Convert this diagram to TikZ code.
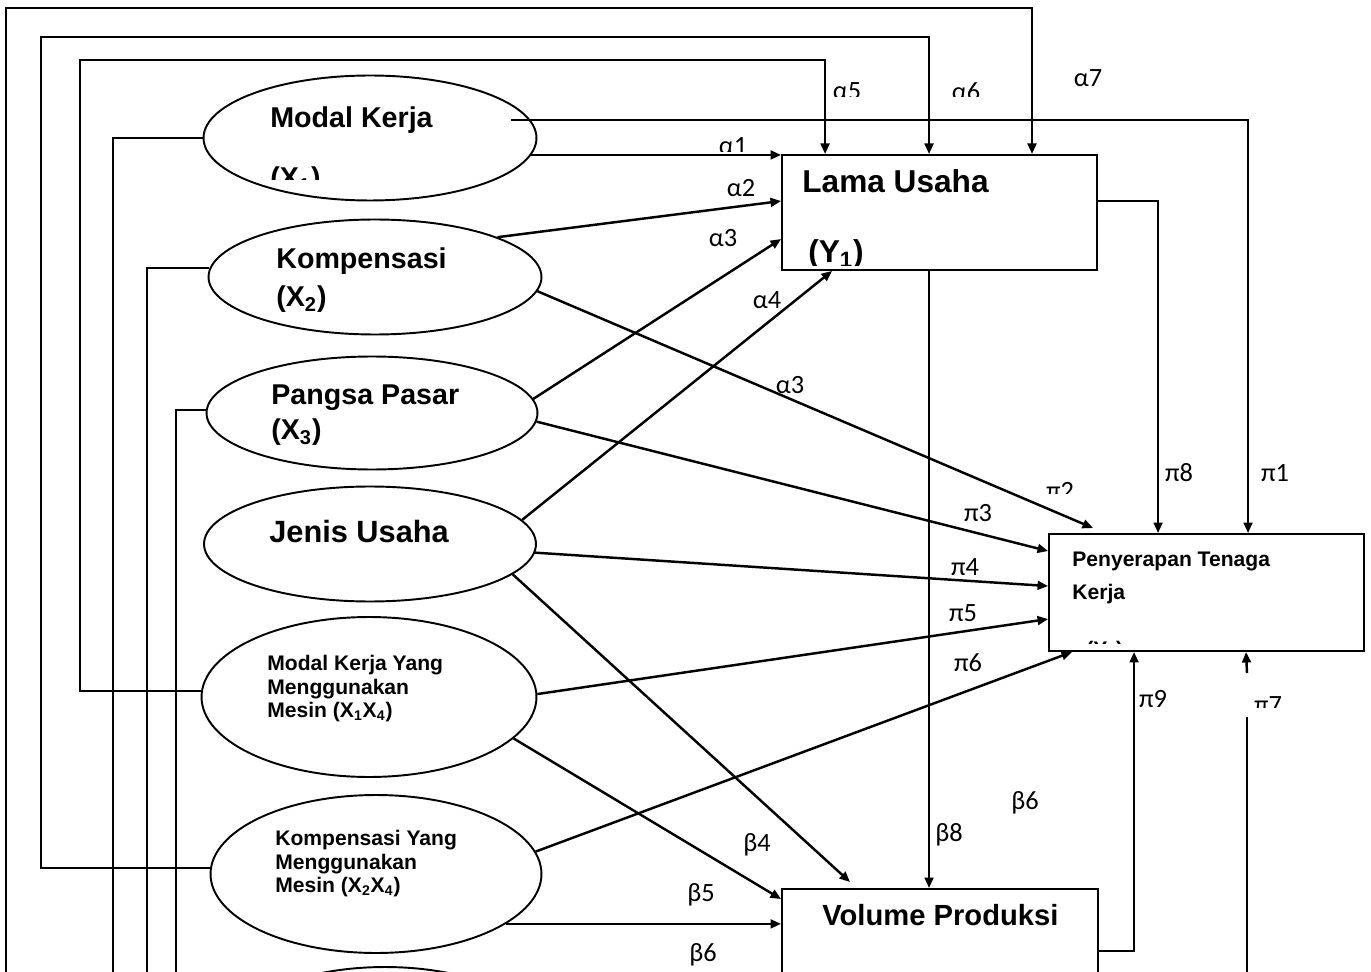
\documentclass[tikz,border=0pt]{standalone}
\usepackage{fontspec}
\setmainfont{Liberation Sans}
\newfontfamily\lblfont{Carlito}
\usetikzlibrary{arrows.meta,shapes.geometric}

\tikzset{
  var/.style={draw,ellipse,line width=1.1pt,inner sep=0pt},
  box/.style={draw,rectangle,line width=1.1pt,inner sep=0pt},
  wire/.style={line width=1.1pt},
  arr/.style={line width=1.4pt,-{Triangle[length=6pt,width=5pt]}},
  coef/.style={font=\lblfont\fontsize{15}{18}\selectfont,inner sep=0pt},
  vtext/.style={font=\bfseries\fontsize{16.3}{19}\selectfont,inner sep=0pt,anchor=base west},
  small/.style={font=\bfseries\fontsize{12}{13.4}\selectfont,inner sep=0pt,align=left,anchor=north west},
}

\begin{document}
\begin{tikzpicture}[x=0.02cm,y=-0.02cm]
      \useasboundingbox (0,0) rectangle (1371,972);
      \clip (0,0) rectangle (1371,972);
      % variables
      \draw
        (370,138) node[var,minimum width=6.66cm,minimum height=2.5cm] (mk){}
        (375,277) node[var,minimum width=6.66cm,minimum height=2.3cm] (kp){}
        (372,413) node[var,minimum width=6.62cm,minimum height=2.26cm] (ps){}
        (370,544) node[var,minimum width=6.64cm,minimum height=2.3cm] (js){}
        (369,697) node[var,minimum width=6.7cm,minimum height=3.2cm] (mky){}
        (376,874) node[var,minimum width=6.62cm,minimum height=3.16cm] (kpy){}
        (385,1046) node[var,minimum width=6.62cm,minimum height=3.16cm] (last){}
        (939.5,212.5) node[box,minimum width=6.3cm,minimum height=2.3cm] (lu){}
        (1206.5,592.5) node[box,minimum width=6.3cm,minimum height=2.34cm] (pt){}
        (940,949) node[box,minimum width=6.32cm,minimum height=2.4cm] (vp){};
      % texts
      \draw
        (270,128) node[vtext] (mk-t){Modal Kerja}
        (276,269) node[vtext] (kp-t){Kompensasi}
        (276,307) node[vtext] (kp-x){(X\textsubscript{2})}
        (271,405) node[vtext] (ps-t){Pangsa Pasar}
        (271,440) node[vtext] (ps-x){(X\textsubscript{3})}
        (269,542) node[vtext,font=\bfseries\fontsize{17.5}{21}\selectfont] (js-t){Jenis Usaha}
        (267,655) node[small] (mky-t){Modal Kerja Yang\\Menggunakan\\Mesin (X\textsubscript{1}X\textsubscript{4})}
        (275,830) node[small] (kpy-t){Kompensasi Yang\\Menggunakan\\Mesin (X\textsubscript{2}X\textsubscript{4})}
        (802,193) node[vtext,font=\bfseries\fontsize{18}{21}\selectfont] (lu-t){Lama Usaha}
        (1072,566) node[vtext,font=\bfseries\fontsize{12}{14}\selectfont] (pt-t){Penyerapan Tenaga}
        (1072,599) node[vtext,font=\bfseries\fontsize{12}{14}\selectfont] (pt-k){Kerja}
        (822,925) node[vtext,font=\bfseries\fontsize{16.6}{20}\selectfont] (vp-t){Volume Produksi};
      \begin{scope}
        \clip (220,150) rectangle (540,180);
        \node[vtext] (mk-x) at (270,188) {(X\textsubscript{1})};
      \end{scope}
      \begin{scope}
        \clip (790,230) rectangle (1000,266);
        \node[vtext,font=\bfseries\fontsize{18}{21}\selectfont] (lu-x) at (808,263) {(Y\textsubscript{1})};
      \end{scope}
      \begin{scope}
        \clip (1060,620) rectangle (1200,643);
        \node[vtext,font=\bfseries\fontsize{12}{14}\selectfont] (pt-x) at (1086,656) {(Y\textsubscript{2})};
      \end{scope}
      % coefficients
      \draw
        (723,238) node[coef] (a3){α3}
        (741,188) node[coef] (a2){α2}
        (767,300) node[coef] (a4){α4}
        (790,385) node[coef] (a3b){α3}
        (1088,78) node[coef] (a7){α7}
        (1179,473) node[coef] (p8){π8}
        (1275,473) node[coef] (p1){π1}
        (978,513) node[coef] (p3){π3}
        (965,567) node[coef] (p4){π4}
        (963,613) node[coef] (p5){π5}
        (968,663) node[coef] (p6){π6}
        (1153,699) node[coef] (p9){π9}
        (1025,803) node[coef] (b6b){β6}
        (949,835) node[coef] (b8){β8}
        (757,845) node[coef] (b4){β4}
        (701,895) node[coef] (b5){β5}
        (703,955) node[coef] (b6){β6};
      \begin{scope}
        \clip (700,60) rectangle (1010,97);
        \node[coef] (a5) at (847,91.5) {α5};
        \node[coef] (a6) at (966,91.5) {α6};
      \end{scope}
      \begin{scope}
        \clip (700,120) rectangle (770,152);
        \node[coef] (a1) at (733,146.5) {α1};
      \end{scope}
      \begin{scope}
        \clip (1030,470) rectangle (1090,493);
        \node[coef] (p2) at (1060,490.5) {π2};
      \end{scope}
      \begin{scope}
        \clip (1250,680) rectangle (1290,707);
        \node[coef] (p7) at (1268,705.5) {π7};
      \end{scope}
      % free ends
      \coordinate (mkin) at (511,120);
      \coordinate (b7) at (6,1000);
      \coordinate (p7a) at (1247,1000);
      \coordinate (p7b) at (1247,717);
      \coordinate (p7c) at (1247,673);
      % side lines
      \begin{scope}[wire]
        \draw (mk.west) -| (113,1000);
        \draw (kp.177) -| (147,1000);
        \draw (ps.179) -| (176,1000);
        \draw (p7a) -- (p7b);
      \end{scope}
      \begin{scope}[arr]
        \draw (mk.-6) -- (mk.-6 -| lu.west);
        \draw (kp.18) -- ([yshift=-0.94cm]lu.north west);
        \draw (ps.5) -- ([yshift=-1.7cm]lu.north west);
        \draw (js.9) -- ([xshift=1.02cm]lu.south west);
        \draw (mky.178) -| (80,60) -| ([xshift=0.88cm]lu.north west);
        \draw (kpy.178) -| (41,37) -| ([xshift=2.96cm]lu.north west);
        \draw (b7) -- (6,8) -| ([xshift=5.02cm]lu.north west);
        \draw (mkin) -| ([xshift=4cm]pt.north west);
        \draw ([yshift=-0.94cm]lu.north east) -| ([xshift=2.2cm]pt.north west);
        \draw ([xshift=2.96cm]lu.south west) -- ([xshift=2.96cm]vp.north west);
        \draw (kp.-5) -- ([xshift=0.9cm,yshift=0.1cm]pt.north west);
        \draw (ps.-3) -- ([yshift=-0.36cm]pt.north west);
        \draw (js.-3) -- ([yshift=-1.06cm]pt.north west);
        \draw (mky.1) -- ([yshift=-1.72cm]pt.north west);
        \draw (kpy.8) -- ([xshift=0.48cm]pt.south west);
        \draw ([yshift=-1.26cm]vp.north east) -| ([xshift=1.72cm]pt.south west);
        \draw (p7c) -- ([xshift=3.96cm]pt.south west);
        \draw (js.-12) -- ([xshift=1.38cm,yshift=0.12cm]vp.north west);
        \draw (mky.-16) -- ([yshift=-0.22cm]vp.north west);
        \draw (kpy.-21) -- (kpy.-21 -| vp.west);
      \end{scope}
    \end{tikzpicture}
\end{document}
